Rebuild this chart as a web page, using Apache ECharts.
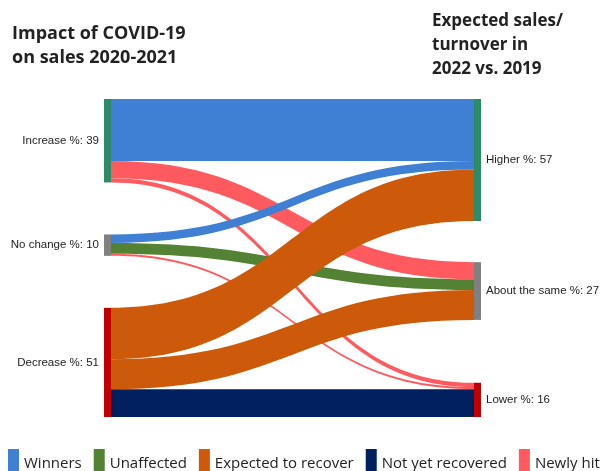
<!DOCTYPE html>
<html>
<head>
<meta charset="utf-8">
<script src="https://cdn.jsdelivr.net/npm/echarts@6/dist/echarts.min.js"></script>
<style>
  html, body { margin: 0; padding: 0; background: #fff; }
  #main { width: 606px; height: 471px; }
</style>
</head>
<body>
<div id="main"></div>
<script>
// nodes: impact 2020-2021 (left) and outlook 2022 vs 2019 (right)
var impactNames = ['Increase', 'No change', 'Decrease'];
var impactValues = [39, 10, 51];
var outlookNames = ['Higher', 'About the same', 'Lower'];
var outlookValues = [57, 27, 16];

// flows between them
var linkSource = ['Increase', 'Increase', 'Increase', 'No change', 'No change', 'No change', 'Decrease', 'Decrease', 'Decrease'];
var linkTarget = ['Higher', 'About the same', 'Lower', 'Higher', 'About the same', 'Lower', 'Higher', 'About the same', 'Lower'];
var linkValue = [29, 8, 2, 4, 5, 1, 24, 14, 13];
var linkGroup = ['Winners', 'Newly hit', 'Newly hit', 'Winners', 'Unaffected', 'Newly hit', 'Expected to recover', 'Expected to recover', 'Not yet recovered'];

var groups = ['Winners', 'Unaffected', 'Expected to recover', 'Not yet recovered', 'Newly hit'];
var groupColors = ['#3f80d4', '#548235', '#cc5a0a', '#002060', '#ff5a5f'];
var nodeColors = ['#2e8b68', '#808080', '#c00000'];

var nodes = [];
impactNames.forEach(function (n, i) {
    nodes.push({
        name: n, value: impactValues[i], depth: 0,
        itemStyle: { color: nodeColors[i] },
        label: { position: 'left' }
    });
});
outlookNames.forEach(function (n, i) {
    var item = {
        name: n, value: outlookValues[i], depth: 1,
        itemStyle: { color: nodeColors[i] },
        label: { position: 'right' }
    };
    if (n === 'About the same') item.localY = 0.513;
    nodes.push(item);
});

var links = linkSource.map(function (s, i) {
    return {
        source: s,
        target: linkTarget[i],
        value: linkValue[i],
        lineStyle: { color: groupColors[groups.indexOf(linkGroup[i])], opacity: 1 }
    };
});

var myChart = echarts.init(document.getElementById('main'));
var option = {
    backgroundColor: '#fff',
    animation: false,
    title: [{
        text: 'Impact of COVID-19\non sales 2020-2021',
        left: 12,
        top: 22,
        padding: 0,
        textStyle: {
            fontFamily: 'Open Sans',
            fontSize: 18,
            fontWeight: 'bold',
            color: '#222',
            lineHeight: 24
        }
    }, {
        text: 'Expected sales/\nturnover in\n2022 vs. 2019',
        left: 432,
        top: 9,
        padding: 0,
        textStyle: {
            fontFamily: 'Open Sans',
            fontSize: 17,
            fontWeight: 'bold',
            color: '#222',
            lineHeight: 24
        }
    }],
    legend: {
        data: groups,
        left: 8,
        top: 449,
        padding: 0,
        icon: 'rect',
        itemWidth: 11,
        itemHeight: 22,
        itemGap: 12,
        selectedMode: false,
        formatter: '{t|{name}}',
        textStyle: {
            fontFamily: 'Open Sans',
            fontSize: 15,
            color: '#222',
            rich: {
                t: {
                    fontFamily: 'Open Sans',
                    fontSize: 15,
                    color: '#222',
                    padding: [8, 0, 0, 0]
                }
            }
        }
    },
    series: [{
        type: 'sankey',
        left: 104,
        top: 99,
        right: 125,
        bottom: 54,
        nodeWidth: 7,
        nodeGap: 52,
        layoutIterations: 0,
        draggable: false,
        emphasis: { disabled: true },
        label: {
            fontFamily: 'Liberation Sans',
            fontSize: 11.5,
            color: '#222',
            distance: 5,
            formatter: function (p) { return p.name + ' %: ' + p.value; }
        },
        lineStyle: { curveness: 0.5, opacity: 1 },
        data: nodes,
        links: links
    }, {
        // carries the legend entries only
        type: 'pie',
        radius: [0, 0],
        silent: true,
        stillShowZeroSum: false,
        showEmptyCircle: false,
        label: { show: false },
        data: groups.map(function (g, i) {
            return { name: g, value: 0, itemStyle: { color: groupColors[i] } };
        })
    }]
};
myChart.setOption(option);
</script>
</body>
</html>
